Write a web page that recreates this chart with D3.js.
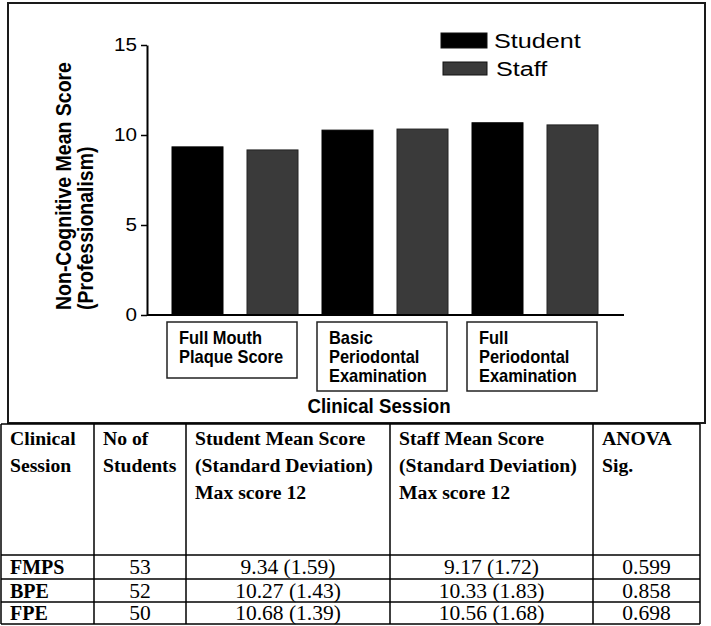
<!DOCTYPE html>
<html>
<head>
<meta charset="utf-8">
<script src="https://cdn.jsdelivr.net/npm/d3@7"></script>
<style>
  html, body { margin: 0; padding: 0; background: #fff; }
  svg { display: block; }
</style>
</head>
<body>
<svg id="chart" width="711" height="626"></svg>
<script>
// ---------- data ----------
const sessions = ["FMPS", "BPE", "FPE"];
const sessionLabels = [["Full Mouth", "Plaque Score"], ["Basic", "Periodontal", "Examination"], ["Full", "Periodontal", "Examination"]];
const seriesNames = ["Student", "Staff"];
const studentMean = [9.34, 10.27, 10.68];
const staffMean = [9.17, 10.33, 10.56];
const studentSD = [1.59, 1.43, 1.39];
const staffSD = [1.72, 1.83, 1.68];
const nStudents = [53, 52, 50];
const anovaSig = ["0.599", "0.858", "0.698"];
const yTicks = [0, 5, 10, 15];
const yTitle = ["Non-Cognitive Mean Score", "(Professionalism)"];
const xTitle = "Clinical Session";
const tableHeaders = [
  ["Clinical", "Session"],
  ["No of", "Students"],
  ["Student Mean Score", "(Standard Deviation)", "Max score 12"],
  ["Staff Mean Score", "(Standard Deviation)", "Max score 12"],
  ["ANOVA", "Sig."]
];

// ---------- setup ----------
const svg = d3.select("#chart");
const SANS = "'Liberation Sans', Arial, Helvetica, sans-serif";
const SERIF = "'Liberation Serif', 'Times New Roman', Times, serif";
const colors = { Student: "#000000", Staff: "#3a3a3a" };

// outer chart frame
svg.append("rect")
  .attr("x", 8).attr("y", 3).attr("width", 697).attr("height", 420)
  .attr("fill", "none").attr("stroke", "#1a1a1a").attr("stroke-width", 2);

const y = d3.scaleLinear().domain([0, 15]).range([315, 45]);
const x0 = d3.scaleBand().domain(sessions).range([160, 610]).paddingInner(0).paddingOuter(0);
const x1 = d3.scaleBand().domain(seriesNames).range([0, x0.bandwidth()]).paddingInner(0.32).paddingOuter(0.16);

const barData = sessions.flatMap((s, i) => [
  { session: s, series: "Student", value: studentMean[i] },
  { session: s, series: "Staff", value: staffMean[i] }
]);

// bars
svg.append("g").selectAll("rect").data(barData).join("rect")
  .attr("x", d => x0(d.session) + x1(d.series))
  .attr("y", d => y(d.value))
  .attr("width", x1.bandwidth())
  .attr("height", d => y(0) - y(d.value))
  .attr("fill", d => colors[d.series])
  .attr("stroke", d => d.series === "Staff" ? "#222" : "#000")
  .attr("stroke-width", 1);

// y axis
const yAxis = svg.append("g")
  .attr("transform", "translate(147,0)")
  .call(d3.axisLeft(y).tickValues(yTicks).tickSize(6).tickSizeOuter(0).tickPadding(3));
yAxis.select(".domain").attr("stroke", "#000").attr("stroke-width", 2);
yAxis.selectAll(".tick line").attr("stroke", "#000").attr("stroke-width", 1.5);
yAxis.selectAll(".tick text")
  .attr("font-family", SANS).attr("font-size", 17.5).attr("fill", "#000")
  .attr("x", null).attr("dy", null)
  .attr("dominant-baseline", "central")
  .attr("text-anchor", "end")
  .attr("transform", "translate(-10,0) scale(1.18,1)");

// x axis line (no ticks)
svg.append("line")
  .attr("x1", 147).attr("x2", 624).attr("y1", y(0)).attr("y2", y(0))
  .attr("stroke", "#000").attr("stroke-width", 2);

// category boxes
const cats = svg.append("g").selectAll("g").data(sessions).join("g")
  .attr("transform", d => `translate(${x0(d) + 7},322)`);
cats.append("rect")
  .attr("x", 0).attr("y", 0).attr("width", 130)
  .attr("height", (d, i) => 30 + sessionLabels[i].length * 13)
  .attr("fill", "#fff").attr("stroke", "#222").attr("stroke-width", 1.5);
cats.each(function (d, i) {
  d3.select(this).selectAll("text").data(sessionLabels[i]).join("text")
    .attr("transform", (t, j) => `translate(12,${22 + j * 19}) scale(0.94,1)`)
    .attr("font-family", SANS).attr("font-weight", "bold").attr("font-size", 17.5)
    .attr("fill", "#000").text(t => t);
});

// x title
svg.append("text")
  .attr("transform", "translate(379,413) scale(0.89,1)")
  .attr("text-anchor", "middle")
  .attr("font-family", SANS).attr("font-weight", "bold").attr("font-size", 21)
  .attr("fill", "#000").text(xTitle);

// y title (two lines, bottom-aligned)
svg.append("g").selectAll("text").data(yTitle).join("text")
  .attr("transform", (d, i) => `translate(${71 + i * 22},310) scale(1.15,1) rotate(-90)`)
  .attr("text-anchor", "start")
  .attr("font-family", SANS).attr("font-weight", "bold").attr("font-size", 19.5)
  .attr("fill", "#000").text(d => d);

// legend
const leg = svg.append("g").selectAll("g").data(seriesNames).join("g")
  .attr("transform", (d, i) => `translate(441,${33 + i * 29})`);
leg.append("rect")
  .attr("x", (d, i) => i * 2).attr("y", 0)
  .attr("width", (d, i) => 46 - i * 2).attr("height", (d, i) => 15 - i * 2)
  .attr("fill", d => colors[d]).attr("stroke", "#111").attr("stroke-width", 1);
leg.append("text")
  .attr("transform", (d, i) => `translate(${53 + i * 2},${15 - i * 1}) scale(1.2,1)`)
  .attr("font-family", SANS).attr("font-size", 21).attr("fill", "#000")
  .text(d => d);

// ---------- table ----------
const colX = [1, 94, 186, 390, 593, 700];
const rowY = [424, 555, 579, 602, 624];
const tbl = svg.append("g");
// horizontal lines
tbl.selectAll("line.h").data(rowY).join("line").attr("class", "h")
  .attr("x1", colX[0]).attr("x2", colX[colX.length - 1])
  .attr("y1", d => d).attr("y2", d => d)
  .attr("stroke", "#000").attr("stroke-width", 1.5);
// vertical lines
tbl.selectAll("line.v").data(colX).join("line").attr("class", "v")
  .attr("x1", d => d).attr("x2", d => d)
  .attr("y1", rowY[0]).attr("y2", rowY[rowY.length - 1])
  .attr("stroke", "#000").attr("stroke-width", 1.5);

// header text
tableHeaders.forEach((lines, c) => {
  tbl.append("g").selectAll("text").data(lines).join("text")
    .attr("x", colX[c] + 9).attr("y", (d, j) => 445 + j * 27)
    .attr("font-family", SERIF).attr("font-weight", "bold").attr("font-size", 19.7)
    .attr("fill", "#000").text(d => d);
});

// body rows
const rows = sessions.map((s, i) => [
  s,
  String(nStudents[i]),
  `${studentMean[i].toFixed(2)} (${studentSD[i].toFixed(2)})`,
  `${staffMean[i].toFixed(2)} (${staffSD[i].toFixed(2)})`,
  anovaSig[i]
]);
rows.forEach((r, i) => {
  const yMid = (rowY[i + 1] + rowY[i + 2]) / 2;
  r.forEach((cell, c) => {
    const t = tbl.append("text")
      .attr("y", yMid).attr("dominant-baseline", "central")
      .attr("font-family", SERIF).attr("fill", "#000").text(cell);
    if (c === 0) {
      t.attr("x", colX[0] + 9).attr("font-weight", "bold").attr("font-size", 20);
    } else {
      t.attr("x", (colX[c] + colX[c + 1]) / 2).attr("text-anchor", "middle").attr("font-size", 21.5);
    }
  });
});
</script>
</body>
</html>
